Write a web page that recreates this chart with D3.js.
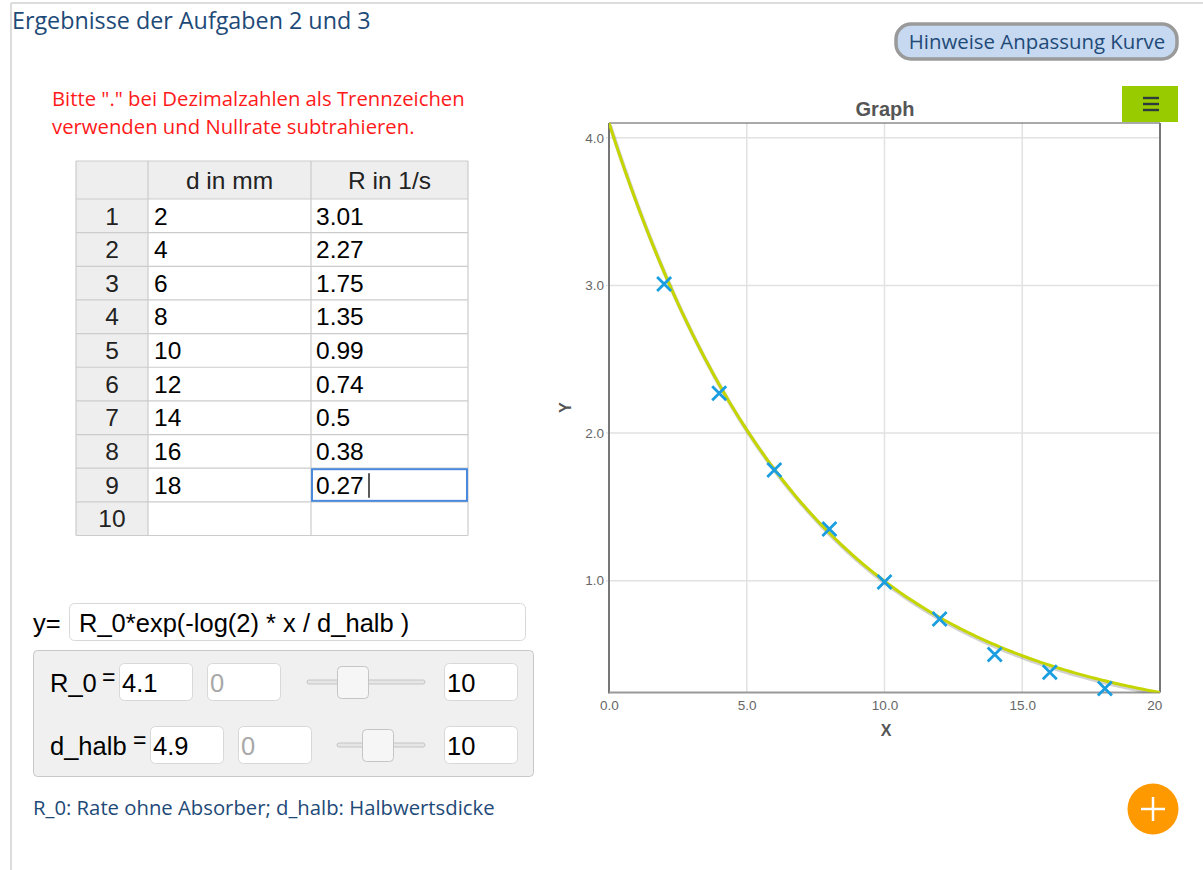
<!DOCTYPE html>
<html>
<head>
<meta charset="utf-8">
<script src="https://cdn.jsdelivr.net/npm/d3@7"></script>
<style>
  html, body { margin: 0; padding: 0; background: #fff; }
  svg { display: block; }
</style>
</head>
<body>
<svg id="page" width="1203" height="870"></svg>
<script>
// ---------- data ----------
const rowIndex = [1, 2, 3, 4, 5, 6, 7, 8, 9, 10];
const dValues = ["2", "4", "6", "8", "10", "12", "14", "16", "18", ""];
const rValues = ["3.01", "2.27", "1.75", "1.35", "0.99", "0.74", "0.5", "0.38", "0.27", ""];
const columnHeaders = ["", "d in mm", "R in 1/s"];
const xTicks = [0, 5, 10, 15, 20];
const yTicks = [1, 2, 3, 4];
const R0 = 4.1;
const dHalb = 4.9;
const paramNames = ["R_0", "d_halb"];
const paramValues = ["4.1", "4.9"];
const paramMins = ["0", "0"];
const paramMaxs = ["10", "10"];

const svg = d3.select("#page");
const openSans = "'Open Sans', 'Noto Sans', sans-serif";
const arial = "'Liberation Sans', Arial, sans-serif";

// ---------- frame ----------
svg.append("line").attr("x1", 11).attr("x2", 11).attr("y1", 3).attr("y2", 870)
  .attr("stroke", "#dcdcdc").attr("stroke-width", 2);
svg.append("line").attr("x1", 11).attr("x2", 1203).attr("y1", 3).attr("y2", 3)
  .attr("stroke", "#dcdcdc").attr("stroke-width", 2);

// title
svg.append("text").attr("x", 12).attr("y", 29).text("Ergebnisse der Aufgaben 2 und 3")
  .attr("font-family", openSans).attr("font-size", 23.3).attr("fill", "#1e4a78");

// button
svg.append("rect").attr("x", 896).attr("y", 24).attr("width", 281).attr("height", 35).attr("rx", 15)
  .attr("fill", "#c6d9f1").attr("stroke", "#9a9a9a").attr("stroke-width", 3.5);
svg.append("text").attr("x", 1037).attr("y", 48.5).attr("text-anchor", "middle")
  .text("Hinweise Anpassung Kurve")
  .attr("font-family", openSans).attr("font-size", 20.4).attr("fill", "#1e4a78");

// red hint
svg.append("text").attr("x", 52).attr("y", 106).text("Bitte \".\" bei Dezimalzahlen als Trennzeichen")
  .attr("font-family", openSans).attr("font-size", 20.3).attr("fill", "#ff1a1a");
svg.append("text").attr("x", 52).attr("y", 134).text("verwenden und Nullrate subtrahieren.")
  .attr("font-family", openSans).attr("font-size", 20.3).attr("fill", "#ff1a1a");

// ---------- table ----------
const colX = [76, 148, 311, 468];
const headTop = 161, headBot = 199, rowH = 33.65;
const tbl = svg.append("g");
tbl.append("rect").attr("x", colX[0]).attr("y", headTop).attr("width", colX[3] - colX[0]).attr("height", headBot - headTop)
  .attr("fill", "#eeeeee");
tbl.append("rect").attr("x", colX[0]).attr("y", headBot).attr("width", colX[1] - colX[0]).attr("height", rowH * rowIndex.length)
  .attr("fill", "#eeeeee");
const tableBottom = headBot + rowH * rowIndex.length;
[headTop, headBot].concat(rowIndex.map((d, i) => headBot + rowH * (i + 1))).forEach(y => {
  tbl.append("line").attr("x1", colX[0]).attr("x2", colX[3]).attr("y1", y).attr("y2", y)
    .attr("stroke", "#cccccc").attr("stroke-width", 1.2);
});
colX.forEach(x => {
  tbl.append("line").attr("x1", x).attr("x2", x).attr("y1", headTop).attr("y2", tableBottom)
    .attr("stroke", "#cccccc").attr("stroke-width", 1.2);
});
const tfs = 24.5;
columnHeaders.forEach((h, i) => {
  tbl.append("text").attr("x", (colX[i] + colX[i + 1]) / 2).attr("y", 189).attr("text-anchor", "middle")
    .text(h).attr("font-family", arial).attr("font-size", tfs).attr("fill", "#222");
});
tbl.selectAll("text.idx").data(rowIndex).join("text").attr("class", "idx")
  .attr("x", (colX[0] + colX[1]) / 2).attr("y", (d, i) => headBot + rowH * i + 25.5)
  .attr("text-anchor", "middle").text(d => d)
  .attr("font-family", arial).attr("font-size", tfs).attr("fill", "#222");
tbl.selectAll("text.dv").data(dValues).join("text").attr("class", "dv")
  .attr("x", colX[1] + 6).attr("y", (d, i) => headBot + rowH * i + 25.5)
  .text(d => d).attr("font-family", arial).attr("font-size", tfs).attr("fill", "#000");
tbl.selectAll("text.rv").data(rValues).join("text").attr("class", "rv")
  .attr("x", colX[2] + 5).attr("y", (d, i) => headBot + rowH * i + 25.5)
  .text(d => d).attr("font-family", arial).attr("font-size", tfs).attr("fill", "#000");
const selY = headBot + rowH * 8;
tbl.append("rect").attr("x", colX[2] + 1).attr("y", selY + 1).attr("width", colX[3] - colX[2] - 2).attr("height", rowH - 2)
  .attr("fill", "none").attr("stroke", "#4a89dc").attr("stroke-width", 2);
tbl.append("line").attr("x1", 369).attr("x2", 369).attr("y1", selY + 5).attr("y2", selY + rowH - 4)
  .attr("stroke", "#000").attr("stroke-width", 1.3);

// ---------- formula ----------
const ffs = 25.5;
svg.append("text").attr("x", 33).attr("y", 632).text("y=")
  .attr("font-family", arial).attr("font-size", ffs).attr("fill", "#000");
svg.append("rect").attr("x", 69.5).attr("y", 603.5).attr("width", 456).attr("height", 37).attr("rx", 5)
  .attr("fill", "#fff").attr("stroke", "#d8d8d8");
svg.append("text").attr("x", 79).attr("y", 632).text("R_0*exp(-log(2) * x / d_halb )")
  .attr("font-family", arial).attr("font-size", ffs).attr("fill", "#000");

svg.append("rect").attr("x", 33.5).attr("y", 650.5).attr("width", 500).attr("height", 126).attr("rx", 4)
  .attr("fill", "#f0f0f0").attr("stroke", "#c8c8c8");
const paramRows = [
  { y: 663, valX: 119, valW: 73, minX: 207, minW: 73, trackX1: 307, trackX2: 425, thumbX: 337, eqX: 102 },
  { y: 726, valX: 150, valW: 73, minX: 238, minW: 73, trackX1: 337, trackX2: 425, thumbX: 362, eqX: 133 }
];
paramRows.forEach((r, i) => {
  const g = svg.append("g");
  g.append("text").attr("x", 50).attr("y", r.y + 29).text(paramNames[i])
    .attr("font-family", arial).attr("font-size", ffs).attr("fill", "#000");
  g.append("text").attr("x", r.eqX).attr("y", r.y + 22).text("=")
    .attr("font-family", arial).attr("font-size", 23).attr("fill", "#000");
  const box = (x, w, txt, col) => {
    g.append("rect").attr("x", x + 0.5).attr("y", r.y + 0.5).attr("width", w).attr("height", 37).attr("rx", 5)
      .attr("fill", "#fff").attr("stroke", "#d8d8d8");
    g.append("text").attr("x", x + 3).attr("y", r.y + 29).text(txt)
      .attr("font-family", arial).attr("font-size", ffs).attr("fill", col);
  };
  box(r.valX, r.valW, paramValues[i], "#000");
  box(r.minX, r.minW, paramMins[i], "#a8a8a8");
  box(444, 73, paramMaxs[i], "#000");
  const ty = r.y + 19;
  g.append("rect").attr("x", r.trackX1).attr("y", ty - 2).attr("width", r.trackX2 - r.trackX1).attr("height", 4).attr("rx", 2)
    .attr("fill", "#e6e6e6").attr("stroke", "#c4c4c4").attr("stroke-width", 1);
  g.append("rect").attr("x", r.thumbX + 0.5).attr("y", r.y + 3.5).attr("width", 31).attr("height", 32).attr("rx", 4)
    .attr("fill", "#f6f6f6").attr("stroke", "#c5c5c5");
});

svg.append("text").attr("x", 33).attr("y", 815).text("R_0: Rate ohne Absorber; d_halb: Halbwertsdicke")
  .attr("font-family", openSans).attr("font-size", 20.3).attr("fill", "#1e4a78");

// ---------- chart ----------
const fx = x => R0 * Math.exp(-Math.log(2) * x / dHalb);
const plot = { left: 609, right: 1160, top: 123, bottom: 692.5 };
const x = d3.scaleLinear().domain([0, 20]).range([plot.left, plot.right]);
const y = d3.scaleLinear().domain([fx(20), fx(0)]).range([plot.bottom, plot.top]);

const chart = svg.append("g");
svg.append("clipPath").attr("id", "chartclip").append("rect")
  .attr("x", 540).attr("y", 80).attr("width", 623).attr("height", 700);
chart.attr("clip-path", "url(#chartclip)");

chart.append("text").attr("x", 885).attr("y", 116).attr("text-anchor", "middle").text("Graph")
  .attr("font-family", arial).attr("font-weight", "bold").attr("font-size", 20).attr("fill", "#555");

chart.append("g").selectAll("line").data(xTicks.filter(t => t > 0 && t < 20)).join("line")
  .attr("x1", d => x(d)).attr("x2", d => x(d)).attr("y1", plot.top).attr("y2", plot.bottom)
  .attr("stroke", "#e2e2e2").attr("stroke-width", 1.5);
chart.append("g").selectAll("line").data(yTicks).join("line")
  .attr("x1", plot.left - 3).attr("x2", plot.right).attr("y1", d => y(d)).attr("y2", d => y(d))
  .attr("stroke", "#e2e2e2").attr("stroke-width", 1.5);

const xAxis = chart.append("g").attr("transform", `translate(0,${plot.bottom})`)
  .call(d3.axisBottom(x).tickValues(xTicks).tickFormat(d3.format(".1f")).tickSize(0).tickPadding(8));
const yAxis = chart.append("g").attr("transform", `translate(${plot.left},0)`)
  .call(d3.axisLeft(y).tickValues(yTicks).tickFormat(d3.format(".1f")).tickSize(0).tickPadding(5));
[xAxis, yAxis].forEach(a => {
  a.attr("font-size", 13.5).attr("font-family", arial);
  a.select(".domain").remove();
  a.selectAll("text").style("font-size", "13.5px").style("font-family", arial).attr("fill", "#666");
});

chart.append("line").attr("x1", plot.left).attr("x2", plot.right).attr("y1", plot.top).attr("y2", plot.top)
  .attr("stroke", "#555").attr("stroke-width", 1);
chart.append("line").attr("x1", plot.right).attr("x2", plot.right).attr("y1", plot.top).attr("y2", plot.bottom)
  .attr("stroke", "#777").attr("stroke-width", 2);
chart.append("line").attr("x1", plot.left).attr("x2", plot.left).attr("y1", plot.top).attr("y2", plot.bottom + 1)
  .attr("stroke", "#777").attr("stroke-width", 2);
chart.append("line").attr("x1", plot.left).attr("x2", plot.right).attr("y1", plot.bottom).attr("y2", plot.bottom)
  .attr("stroke", "#999").attr("stroke-width", 2);

chart.append("text").attr("transform", `translate(571,${(plot.top + plot.bottom) / 2}) rotate(-90)`)
  .attr("text-anchor", "middle").text("Y")
  .attr("font-family", arial).attr("font-weight", "bold").attr("font-size", 16).attr("fill", "#555");
chart.append("text").attr("x", 886).attr("y", 736).attr("text-anchor", "middle").text("X")
  .attr("font-family", arial).attr("font-weight", "bold").attr("font-size", 16).attr("fill", "#555");

const curveXs = d3.range(0, 20.001, 0.1);
const line = d3.line().x(d => x(d)).y(d => y(fx(d)));
svg.append("clipPath").attr("id", "plotclip").append("rect")
  .attr("x", plot.left).attr("y", plot.top - 2).attr("width", plot.right - plot.left).attr("height", plot.bottom - plot.top + 2);
const curveG = chart.append("g").attr("clip-path", "url(#plotclip)");
curveG.append("path").datum(curveXs).attr("d", line).attr("transform", "translate(1,2)")
  .attr("fill", "none").attr("stroke", "#000").attr("stroke-opacity", 0.18).attr("stroke-width", 4);
curveG.append("path").datum(curveXs).attr("d", line)
  .attr("fill", "none").attr("stroke", "#c5d500").attr("stroke-width", 3);

const pts = dValues.map((d, i) => ({ d: +d, r: +rValues[i], ok: d !== "" })).filter(p => p.ok);
const mk = chart.append("g").selectAll("g").data(pts).join("g")
  .attr("transform", p => `translate(${x(p.d)},${y(p.r)})`);
const s = 7;
mk.append("path").attr("d", `M${-s},${-s}L${s},${s}M${-s},${s}L${s},${-s}`)
  .attr("stroke", "#1a9ee0").attr("stroke-width", 2.8).attr("fill", "none");

// hamburger menu
svg.append("rect").attr("x", 1122).attr("y", 86).attr("width", 56).attr("height", 36).attr("fill", "#99cc00");
[98, 104, 110].forEach(yy => {
  svg.append("line").attr("x1", 1143).attr("x2", 1159).attr("y1", yy).attr("y2", yy)
    .attr("stroke", "#2d3b3f").attr("stroke-width", 2.4);
});

// orange plus button
svg.append("circle").attr("cx", 1153).attr("cy", 809).attr("r", 25.5).attr("fill", "#ff9900");
svg.append("line").attr("x1", 1141).attr("x2", 1165).attr("y1", 809).attr("y2", 809).attr("stroke", "#fff").attr("stroke-width", 2.5);
svg.append("line").attr("x1", 1153).attr("x2", 1153).attr("y1", 797).attr("y2", 821).attr("stroke", "#fff").attr("stroke-width", 2.5);
</script>
</body>
</html>
